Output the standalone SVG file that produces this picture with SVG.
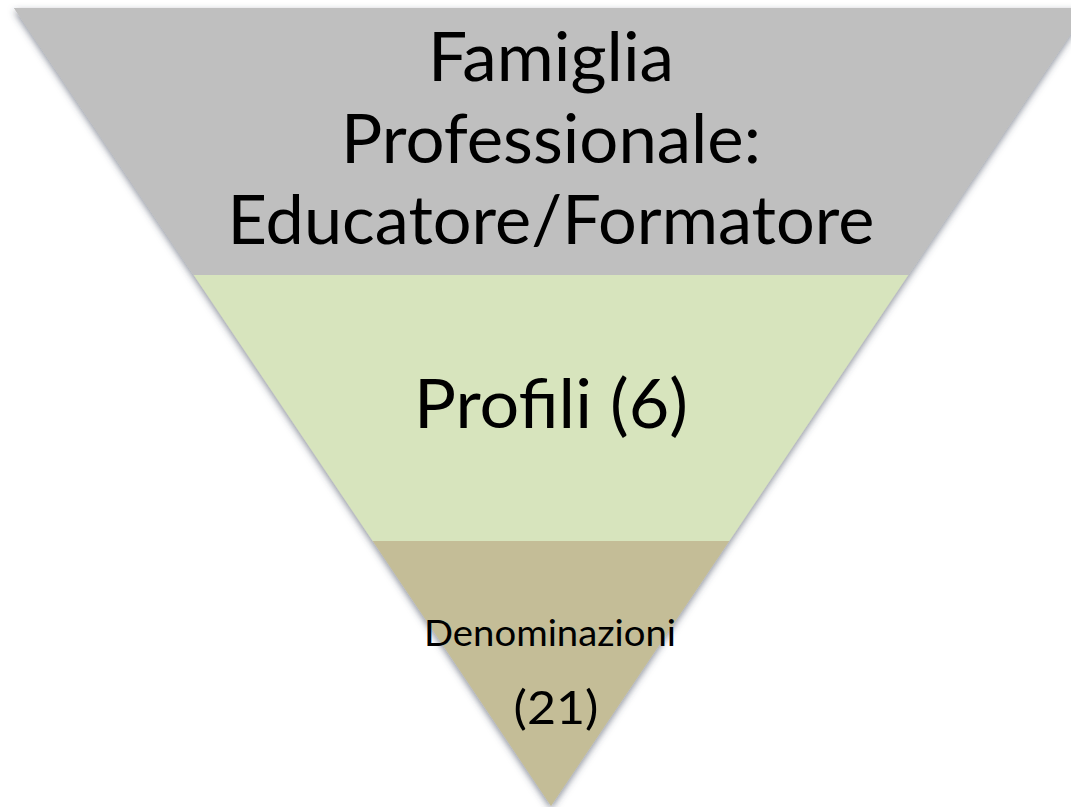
<svg xmlns="http://www.w3.org/2000/svg" width="1071" height="807" viewBox="0 0 1071 807">
  <defs>
    <filter id="shadow" x="-10%" y="-10%" width="120%" height="120%">
      <feDropShadow dx="0" dy="3" stdDeviation="3.5" flood-color="#3a4458" flood-opacity="0.6"/>
    </filter>
    <style>
      .lbl { font-family: Lato, "Open Sans", sans-serif; fill: #000; text-anchor: middle; }
      .big { font-size: 67px; }
    </style>
  </defs>
  <rect width="1071" height="807" fill="#ffffff"/>
  <g filter="url(#shadow)">
    <polygon points="14,8 1088,8 551,806" fill="#bfbfbf"/>
  </g>
  <g id="band-famiglia">
    <polygon points="14,8 1088,8 908.3,275 193.7,275" fill="#bfbfbf"/>
    <text class="lbl big" x="551" y="81" textLength="246" lengthAdjust="spacingAndGlyphs">Famiglia</text>
    <text class="lbl big" x="551" y="163" textLength="420" lengthAdjust="spacingAndGlyphs">Professionale:</text>
    <text class="lbl big" x="551" y="244" textLength="647" lengthAdjust="spacingAndGlyphs">Educatore/Formatore</text>
  </g>
  <g id="band-profili">
    <polygon points="193.7,275 908.3,275 729.3,541 372.7,541" fill="#d7e4bd"/>
    <text class="lbl big" x="551" y="428" textLength="274" lengthAdjust="spacingAndGlyphs">Profili (6)</text>
  </g>
  <g id="band-denominazioni">
    <polygon points="372.7,541 729.3,541 551,806" fill="#c4bd97"/>
    <text class="lbl" x="550" y="646" font-size="37" textLength="252" lengthAdjust="spacingAndGlyphs">Denominazioni</text>
    <text class="lbl" x="556" y="724" font-size="47" textLength="85" lengthAdjust="spacingAndGlyphs">(21)</text>
  </g>
</svg>
